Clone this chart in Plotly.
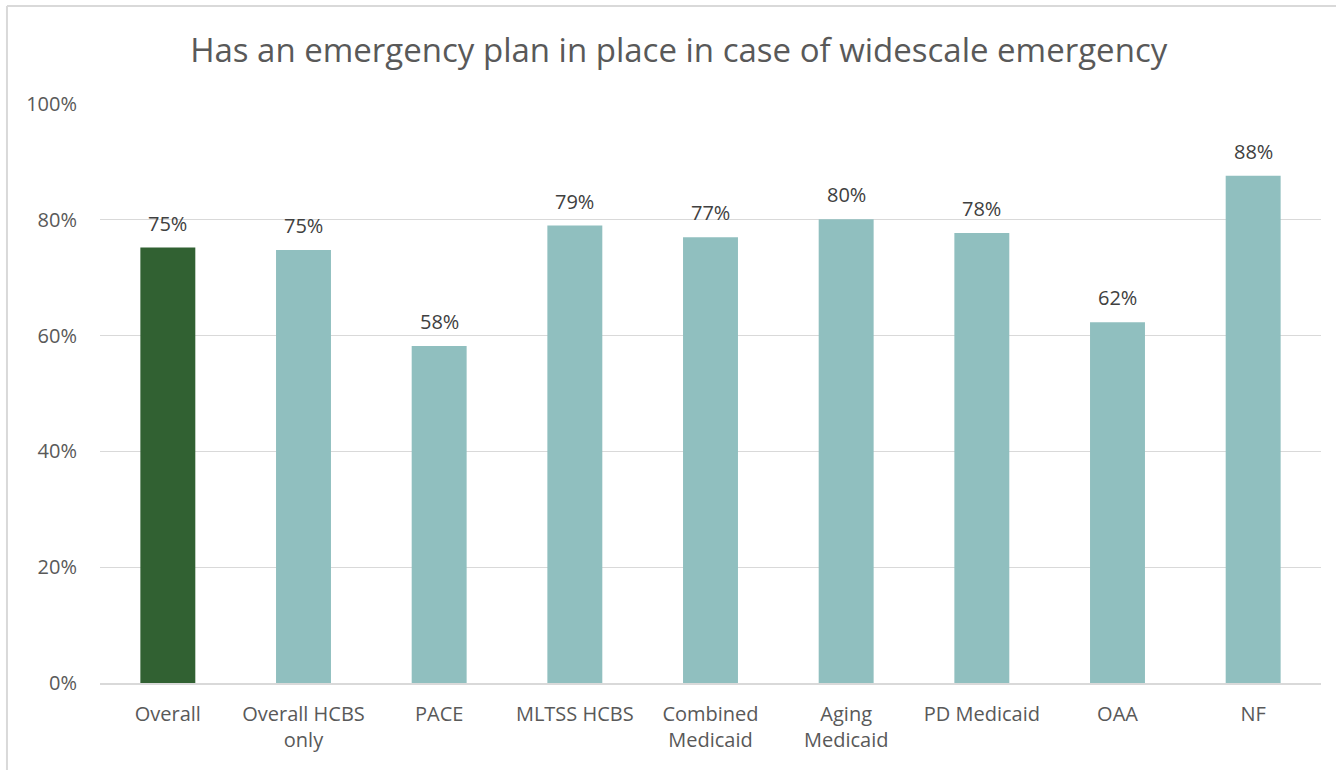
import plotly.graph_objects as go

# Share of respondents with an emergency plan, by group
categories = ["Overall", "Overall HCBS<br>only", "PACE", "MLTSS HCBS", "Combined<br>Medicaid",
              "Aging<br>Medicaid", "PD Medicaid", "OAA", "NF"]
values = [0.752, 0.748, 0.582, 0.790, 0.770, 0.801, 0.777, 0.623, 0.876]
labels = ["75%", "75%", "58%", "79%", "77%", "80%", "78%", "62%", "88%"]

colors = ["#316132"] + ["#90BFBF"] * (len(categories) - 1)

fig = go.Figure(go.Bar(
    x=categories,
    y=values,
    marker=dict(color=colors, line=dict(width=0)),
    hoverinfo="x+y",
))

# data labels a bit above each bar
for cat, val, lab in zip(categories, values, labels):
    fig.add_annotation(x=cat, y=val, text=lab, showarrow=False,
                       yanchor="bottom", yshift=9,
                       font=dict(size=20, color="#404040"))

fig.update_layout(
    width=1336, height=770,
    paper_bgcolor="white", plot_bgcolor="white",
    font=dict(family="Open Sans", color="#595959"),
    title=dict(text="Has an emergency plan in place in case of widescale emergency",
               x=0.508, xanchor="center", y=0.935, yanchor="middle",
               font=dict(size=33, color="#595959")),
    margin=dict(l=100, r=15, t=104, b=87),
    bargap=0.595,
    showlegend=False,
    # chart frame: only left and top edges are visible in the crop
    shapes=[
        dict(type="line", xref="paper", yref="paper", x0=-0.0762, x1=-0.0762,
             y0=-0.16, y1=1.1693, line=dict(color="#D9D9D9", width=2)),
        dict(type="line", xref="paper", yref="paper", x0=-0.0762, x1=1.02,
             y0=1.1693, y1=1.1693, line=dict(color="#D9D9D9", width=2)),
    ],
)

fig.update_yaxes(range=[0, 1], dtick=0.2, tickformat=".0%",
                 showgrid=True, gridcolor="#D9D9D9", gridwidth=1,
                 zeroline=False, ticks="", tickfont=dict(size=20, color="#595959"),
                 ticklabelstandoff=22)
fig.update_xaxes(showline=True, linecolor="#D9D9D9", linewidth=2, ticks="",
                 tickfont=dict(size=20, color="#595959"), ticklabelstandoff=12)

fig.write_html("out.html", config={"displayModeBar": False},
               post_script="document.body.style.margin='0';")
